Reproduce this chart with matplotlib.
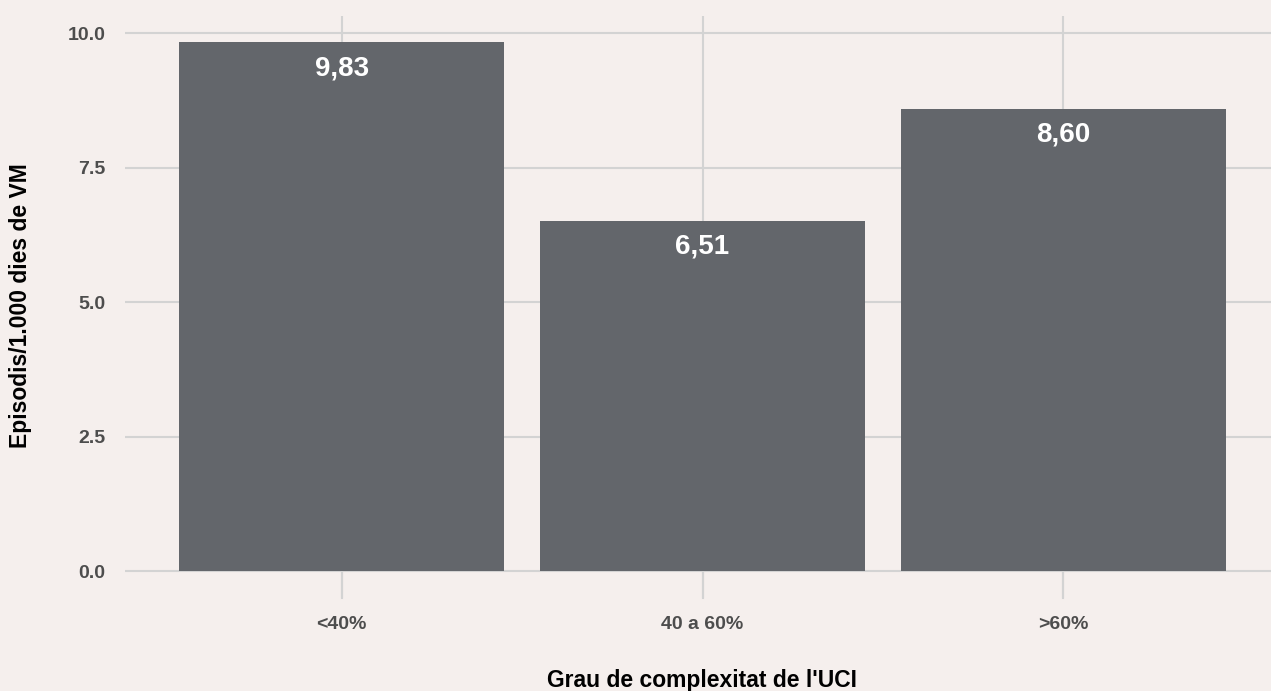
import matplotlib.pyplot as plt
import numpy as np

plt.rcParams['font.family'] = ['Liberation Sans', 'DejaVu Sans']

categories = ['<40%', '40 a 60%', '>60%']
values = [9.83, 6.51, 8.60]
value_labels = ['9,83', '6,51', '8,60']
yticks = [0.0, 2.5, 5.0, 7.5, 10.0]

bg = '#F5EFED'
bar_col = '#63666B'
grid_col = '#D3D3D3'
tick_col = '#4D4D4D'

W, H = 1271, 691
fig = plt.figure(figsize=(W / 100, H / 100), dpi=100)
fig.patch.set_facecolor(bg)
# axes spans a bit beyond the right edge, like the cropped original
ax = fig.add_axes([125 / W, (H - 598) / H, 1155 / W, 582 / H])
ax.set_facecolor(bg)

x = np.arange(1, len(categories) + 1)
ax.grid(True, color=grid_col, linewidth=1.5, zorder=0)
ax.bar(x, values, width=0.9, color=bar_col, zorder=2)

for xi, v, lab in zip(x, values, value_labels):
    ax.text(xi, v - 0.48, lab, ha='center', va='center', color='white',
            fontsize=20, fontweight='bold', zorder=3)

ax.set_xlim(0.4, 3.6)
ax.set_ylim(-0.5, 10.32)
ax.set_xticks(x)
ax.set_xticklabels(categories)
ax.set_yticks(yticks)
ax.set_yticklabels([f'{t:.1f}' for t in yticks])
ax.tick_params(axis='x', length=0, pad=13)
ax.tick_params(axis='y', length=0, pad=14)
for lab in ax.get_xticklabels() + ax.get_yticklabels():
    lab.set_color(tick_col)
    lab.set_fontweight('bold')
    lab.set_fontsize(14)

# tick marks below zero line
for xi in x:
    ax.plot([xi, xi], [-0.5, 0], color=grid_col, linewidth=1.5, zorder=1, clip_on=False)

for s in ax.spines.values():
    s.set_visible(False)

fig.text(702 / W, 1 - 680 / H, "Grau de complexitat de l'UCI", ha='center', va='center',
         fontsize=16.5, fontweight='bold')
fig.text(21 / W, 1 - 306 / H, 'Episodis/1.000 dies de VM', ha='center', va='center',
         rotation=90, fontsize=16.5, fontweight='bold')

fig.savefig('out.png', dpi=100, facecolor=bg)
